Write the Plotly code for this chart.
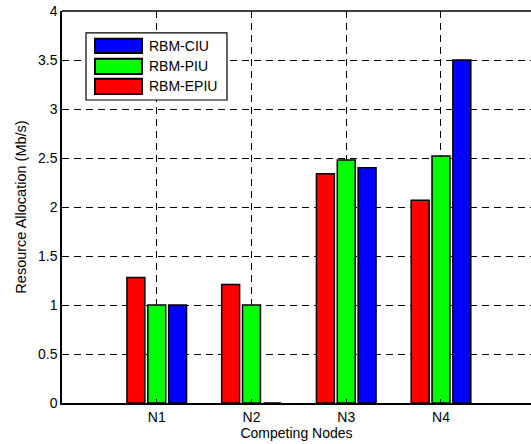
import plotly.graph_objects as go

categories = ["N1", "N2", "N3", "N4"]
epiu = [1.28, 1.21, 2.34, 2.07]
piu = [1.0, 1.0, 2.48, 2.52]
ciu = [1.0, 0.0, 2.40, 3.5]
series_names = ["RBM-EPIU", "RBM-PIU", "RBM-CIU"]
series_colors = ["#ff0000", "#00ff00", "#0000ff"]
y_ticks = [0, 0.5, 1, 1.5, 2, 2.5, 3, 3.5, 4]
y_ticklabels = ["0", "0.5", "1", "1.5", "2", "2.5", "3", "3.5", "4"]

x_pos = [1, 2, 3, 4]
fig = go.Figure()
for name, vals, col in zip(series_names, [epiu, piu, ciu], series_colors):
    fig.add_trace(go.Bar(x=x_pos, y=vals, name=name, showlegend=False,
                         marker=dict(color=col, line=dict(color="black", width=1.5))))

FAM = "Liberation Sans, Arial, Helvetica, sans-serif"
font = dict(family=FAM, size=14, color="black")
fig.update_layout(
    width=531, height=444,
    margin=dict(l=62, r=0, t=11, b=41),
    paper_bgcolor="white", plot_bgcolor="white",
    barmode="group", bargap=0.34, bargroupgap=0.14,
    font=font,
    showlegend=False,
    xaxis=dict(
        range=[0, 4.95], tickmode="array", tickvals=x_pos, ticktext=categories,
        showgrid=True, gridcolor="black", griddash="7px,5px", gridwidth=1,
        showline=True, linecolor="black", linewidth=1.5, mirror=False,
        ticks="inside", ticklen=4, tickcolor="black",
        tickfont=dict(size=14),
        title=dict(text="Competing Nodes", standoff=2, font=dict(size=14)),
        zeroline=False,
    ),
    yaxis=dict(
        range=[0, 4], tickmode="array", tickvals=y_ticks, ticktext=y_ticklabels,
        showgrid=True, gridcolor="black", griddash="7px,5px", gridwidth=1,
        showline=True, linecolor="black", linewidth=1.5,
        ticks="inside", ticklen=4, tickcolor="black",
        tickfont=dict(size=14),
        title=dict(text="Resource Allocation (Mb/s)", standoff=8, font=dict(size=14.5)),
        zeroline=False,
    ),
)
fig.add_shape(type="line", xref="paper", yref="paper", x0=0, x1=1, y0=1, y1=1,
              line=dict(color="black", width=1.5))

# Legend drawn as a boxed key (MATLAB style, wide swatches)
fig.add_shape(type="rect", xref="paper", yref="paper", x0=0.0512, x1=0.3518, y0=0.773, y1=0.944,
              line=dict(color="black", width=1.2), fillcolor="white", layer="above")
legend_order = [2, 1, 0]
sw_y = [(0.893, 0.929), (0.839, 0.878), (0.788, 0.827)]
for (ya, yb), idx in zip(sw_y, legend_order):
    fig.add_shape(type="rect", xref="paper", yref="paper", x0=0.0704, x1=0.1706, y0=ya, y1=yb,
                  line=dict(color="black", width=2), fillcolor=series_colors[idx], layer="above")
    fig.add_annotation(xref="paper", yref="paper", x=0.1812, y=(ya + yb) / 2, text=series_names[idx],
                       showarrow=False, xanchor="left", yanchor="middle", font=dict(size=14, family=FAM))

fig.write_html("out.html")
